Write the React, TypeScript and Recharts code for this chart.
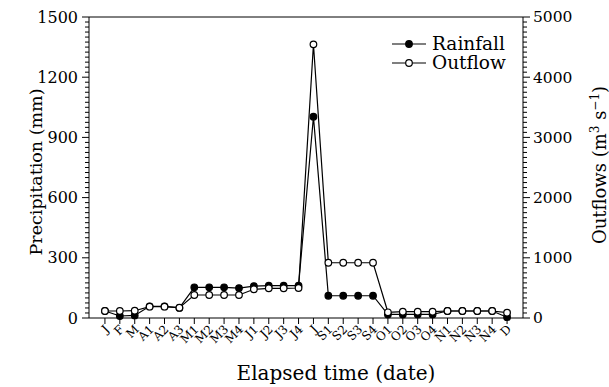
import { Line, LineChart, ReferenceLine, XAxis, YAxis } from "recharts";

const categories = [
  "J", "F", "M", "A1", "A2", "A3", "M1", "M2", "M3", "M4", "J1", "J2", "J3", "J4",
  "J", "S1", "S2", "S3", "S4", "O1", "O2", "O3", "O4", "N1", "N2", "N3", "N4", "D",
];

// precipitation, mm (left axis)
const rainfall = [
  35, 10, 13, 58, 58, 50, 153, 153, 153, 149, 159, 161, 161, 161,
  1003, 111, 111, 111, 111, 18, 18, 18, 18, 35, 35, 35, 35, 4,
];

// outflows, m3/s (right axis)
const outflow = [
  116, 116, 121, 188, 188, 171, 382, 382, 382, 382, 477, 493, 493, 498,
  4546, 918, 918, 918, 918, 95, 105, 105, 105, 116, 116, 116, 116, 88,
];

const leftMajor = [0, 300, 600, 900, 1200, 1500];
const rightMajor = [0, 1000, 2000, 3000, 4000, 5000];

const rows = categories.map((c, i) => ({
  i,
  name: c,
  rainfall: rainfall[i],
  outflow: outflow[i],
}));

const FONT = "'DejaVu Serif', serif";
const W = 609;
const H = 387;

const leftTicks = Array.from({ length: 61 }, (_, k) => k * 25);
const rightTicks = Array.from({ length: 61 }, (_, k) => (k * 1000) / 12);

function LeftTick(props: any) {
  const { x, y, payload } = props;
  const major = leftMajor.some((v) => Math.abs(v - payload.value) < 0.01);
  return (
    <g>
      <line x1={x} x2={x - (major ? 7 : 4)} y1={y} y2={y} stroke="#000" strokeWidth={1} />
      {major && (
        <text x={x - 11} y={y} dy="0.35em" textAnchor="end" fontSize={16} fontFamily={FONT} fill="#000">
          {payload.value}
        </text>
      )}
    </g>
  );
}

function RightTick(props: any) {
  const { x, y, payload } = props;
  const major = rightMajor.some((v) => Math.abs(v - payload.value) < 0.01);
  return (
    <g>
      <line x1={x} x2={x + (major ? 7 : 4)} y1={y} y2={y} stroke="#000" strokeWidth={1} />
      {major && (
        <text x={x + 10} y={y} dy="0.35em" textAnchor="start" fontSize={15.5} fontFamily={FONT} fill="#000">
          {Math.round(payload.value)}
        </text>
      )}
    </g>
  );
}

function BottomTick(props: any) {
  const { x, y, payload } = props;
  const label = categories[payload.value] ?? "";
  return (
    <g>
      <line x1={x} x2={x} y1={y} y2={y + 6} stroke="#000" strokeWidth={1} />
      <text
        transform={`translate(${x + 5},${y + 12}) rotate(-45)`}
        textAnchor="end"
        fontSize={12}
        fontFamily={FONT}
        fill="#000"
      >
        {label}
      </text>
    </g>
  );
}

const legendItems = [
  { name: "Rainfall", fill: "#000", y: 44 },
  { name: "Outflow", fill: "#fff", y: 63 },
];

export default function App() {
  return (
    <div style={{ position: "absolute", left: 0, top: 0, width: W, height: H, background: "#fff" }}>
      <LineChart width={W} height={H} data={rows} margin={{ top: 17, right: 0, bottom: 0, left: 0 }}>
        <XAxis
          dataKey="i"
          type="number"
          domain={[-1.07, 28.07]}
          ticks={categories.map((_, i) => i)}
          interval={0}
          tickSize={0}
          tickMargin={0}
          tick={<BottomTick />}
          axisLine={{ stroke: "#000", strokeWidth: 1 }}
          height={69}
        />
        <YAxis
          yAxisId="left"
          domain={[0, 1500]}
          ticks={leftTicks}
          interval={0}
          tickSize={0}
          tickMargin={0}
          tick={<LeftTick />}
          axisLine={{ stroke: "#000", strokeWidth: 1 }}
          width={89}
        />
        <YAxis
          yAxisId="right"
          orientation="right"
          domain={[0, 5000]}
          ticks={rightTicks}
          interval={0}
          tickSize={0}
          tickMargin={0}
          tick={<RightTick />}
          axisLine={{ stroke: "#000", strokeWidth: 1 }}
          width={86}
        />
        <ReferenceLine yAxisId="left" y={1500} stroke="#000" strokeWidth={1} />
        <Line
          yAxisId="left"
          dataKey="rainfall"
          stroke="#000"
          strokeWidth={1.2}
          dot={{ r: 3.3, fill: "#000", stroke: "#000", strokeWidth: 1.2 }}
          isAnimationActive={false}
        />
        <Line
          yAxisId="right"
          dataKey="outflow"
          stroke="#000"
          strokeWidth={1.2}
          dot={{ r: 3.3, fill: "#fff", stroke: "#000", strokeWidth: 1.2 }}
          isAnimationActive={false}
        />
      </LineChart>
      <svg
        width={W}
        height={H}
        style={{ position: "absolute", left: 0, top: 0, pointerEvents: "none" }}
      >
        {legendItems.map((it) => (
          <g key={it.name}>
            <line x1={392} x2={426} y1={it.y} y2={it.y} stroke="#000" strokeWidth={1.2} />
            <circle cx={409} cy={it.y} r={3.3} fill={it.fill} stroke="#000" strokeWidth={1.2} />
            <text x={432} y={it.y} dy="0.35em" fontSize={18.5} fontFamily={FONT} fill="#000">
              {it.name}
            </text>
          </g>
        ))}
        <text
          transform="translate(36,172) rotate(-90)"
          textAnchor="middle"
          dy="0.35em"
          fontSize={17.5}
          fontFamily={FONT}
          fill="#000"
        >
          Precipitation (mm)
        </text>
        <text
          transform="translate(600,165) rotate(-90)"
          textAnchor="middle"
          dy="0.35em"
          fontSize={18}
          fontFamily={FONT}
          fill="#000"
        >
          Outflows (m
          <tspan fontSize={12} dy="-7">3</tspan>
          <tspan dy="7"> s</tspan>
          <tspan fontSize={12} dy="-7">−1</tspan>
          <tspan dy="7">)</tspan>
        </text>
        <text x={336} y={380} textAnchor="middle" fontSize={20} fontFamily={FONT} fill="#000">
          Elapsed time (date)
        </text>
      </svg>
    </div>
  );
}
